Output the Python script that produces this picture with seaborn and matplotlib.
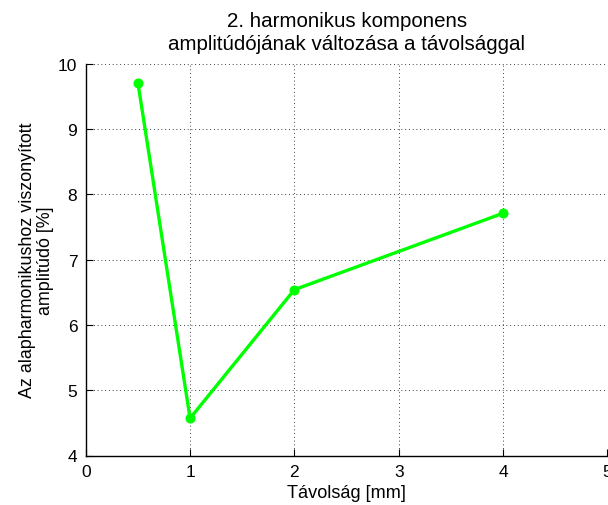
import matplotlib
matplotlib.use("Agg")
import matplotlib.pyplot as plt
import seaborn as sns
import pandas as pd

# Measured amplitude of the 2nd harmonic vs. distance
distance_mm = [0.5, 1.0, 2.0, 4.0]
relative_amplitude = [9.71, 4.57, 6.54, 7.71]
x_ticks = [0, 1, 2, 3, 4, 5]
y_ticks = [4, 5, 6, 7, 8, 9, 10]

title_line1 = "2. harmonikus komponens"
title_line2 = "amplitúdójának változása a távolsággal"
x_label = "Távolság [mm]"
y_label = "Az alapharmonikushoz viszonyított\namplitúdó [%]"

sns.set_theme(style="white")
plt.rcParams["font.family"] = ["Liberation Sans", "DejaVu Sans"]

df = pd.DataFrame({"d": distance_mm, "a": relative_amplitude})

W, H = 608, 506
fig = plt.figure(figsize=(W / 100, H / 100), dpi=100)
ax_left, ax_right, ax_top, ax_bottom = 85.7, 607.5, 64.7, 456.5
ax = fig.add_axes([ax_left / W, 1 - ax_bottom / H,
                   (ax_right - ax_left) / W, (ax_bottom - ax_top) / H])

sns.lineplot(data=df, x="d", y="a", ax=ax, color="#00ff00", linewidth=2.4,
             marker="o", markersize=6.5, markeredgecolor="#00ff00", zorder=5)

ax.set_xlim(0, 5)
ax.set_ylim(4, 10)
ax.set_xticks(x_ticks)
ax.set_yticks(y_ticks)
ax.tick_params(direction="in", length=5, width=0.8, color="black",
               labelsize=12.5, labelcolor="black", pad=6,
               bottom=True, left=True, top=False, right=False)
ax.grid(True, color="black", linestyle=(0, (1, 3.5)), linewidth=0.6)
for side in ["top", "right"]:
    ax.spines[side].set_visible(False)
for side in ["left", "bottom"]:
    ax.spines[side].set_color("black")
    ax.spines[side].set_linewidth(1.0)
ax.set_facecolor("white")

ax.set_xlabel(x_label, fontsize=13.1, color="black", labelpad=4)
ax.set_ylabel(y_label, fontsize=12.9, color="black", labelpad=3,
              linespacing=1.05)

cx = (ax_left + ax_right) / 2 / W
fig.text(cx, 1 - 27 / H, title_line1, ha="center", va="baseline",
         fontsize=14.8, color="black")
fig.text(cx, 1 - 50 / H, title_line2, ha="center", va="baseline",
         fontsize=14.8, color="black")

fig.savefig("out.png", dpi=100, facecolor="white")
